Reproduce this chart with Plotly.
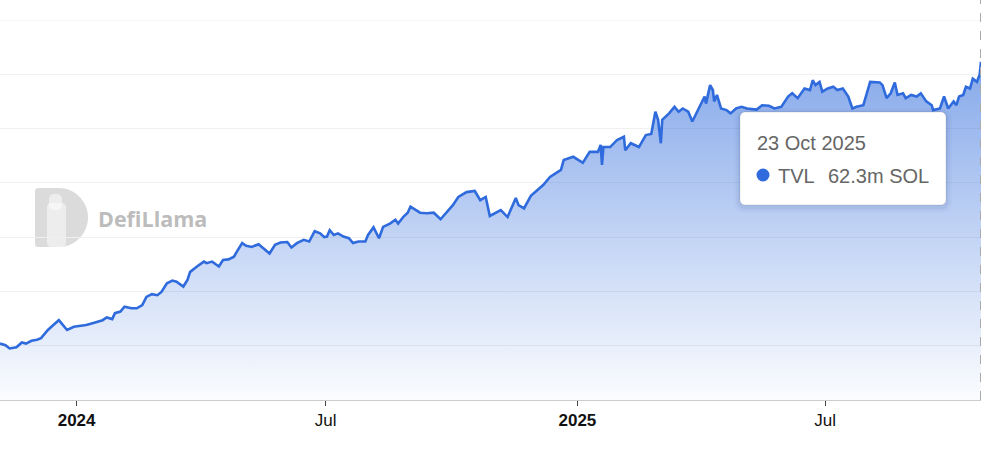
import plotly.graph_objects as go

# ---- data ----
dates = [
    # late 2023
    "2023-11-06", "2023-11-10", "2023-11-13", "2023-11-18", "2023-11-22", "2023-11-25",
    "2023-11-29", "2023-12-03", "2023-12-06", "2023-12-11", "2023-12-15", "2023-12-19",
    "2023-12-21", "2023-12-25", "2023-12-30",
    # 2024 H1
    "2024-01-03", "2024-01-08", "2024-01-12", "2024-01-16", "2024-01-20", "2024-01-23",
    "2024-01-27", "2024-01-29", "2024-02-02", "2024-02-05", "2024-02-10", "2024-02-14",
    "2024-02-18", "2024-02-21", "2024-02-25", "2024-02-29", "2024-03-03", "2024-03-07",
    "2024-03-11", "2024-03-14", "2024-03-19", "2024-03-22", "2024-03-24", "2024-03-29",
    "2024-04-03", "2024-04-05", "2024-04-09", "2024-04-14", "2024-04-17", "2024-04-21",
    "2024-04-25", "2024-04-27", "2024-05-01", "2024-05-04", "2024-05-08", "2024-05-13",
    "2024-05-17", "2024-05-21", "2024-05-25", "2024-05-29", "2024-06-03", "2024-06-06",
    "2024-06-10", "2024-06-15", "2024-06-19", "2024-06-23", "2024-06-27", "2024-06-30",
    # 2024 H2
    "2024-07-02", "2024-07-04", "2024-07-07", "2024-07-10", "2024-07-14", "2024-07-18",
    "2024-07-21", "2024-07-25", "2024-07-30", "2024-08-01", "2024-08-05", "2024-08-09",
    "2024-08-12", "2024-08-17", "2024-08-21", "2024-08-23", "2024-08-27", "2024-08-30",
    "2024-09-01", "2024-09-05", "2024-09-08", "2024-09-13", "2024-09-18", "2024-09-23",
    "2024-10-02", "2024-10-06", "2024-10-12", "2024-10-18", "2024-10-22", "2024-10-26",
    "2024-10-29", "2024-11-06", "2024-11-11", "2024-11-17", "2024-11-19", "2024-11-23",
    "2024-11-28", "2024-12-07", "2024-12-12", "2024-12-20", "2024-12-22", "2024-12-29",
    # 2025
    "2025-01-05", "2025-01-10", "2025-01-16", "2025-01-18", "2025-01-19", "2025-01-20",
    "2025-01-25", "2025-01-30", "2025-02-04", "2025-02-05", "2025-02-09", "2025-02-15",
    "2025-02-20", "2025-02-24", "2025-02-27", "2025-03-01", "2025-03-03", "2025-03-04",
    "2025-03-09", "2025-03-13", "2025-03-16", "2025-03-19", "2025-03-23", "2025-03-26",
    "2025-03-30", "2025-04-01", "2025-04-04", "2025-04-05", "2025-04-08", "2025-04-10",
    "2025-04-11", "2025-04-13", "2025-04-16", "2025-04-20", "2025-04-23", "2025-04-27",
    "2025-05-01", "2025-05-05", "2025-05-12", "2025-05-16", "2025-05-21", "2025-05-25",
    "2025-05-30", "2025-06-04", "2025-06-07", "2025-06-11", "2025-06-16", "2025-06-20",
    "2025-06-22", "2025-06-24", "2025-06-27", "2025-06-29", "2025-07-03", "2025-07-07",
    "2025-07-10", "2025-07-14", "2025-07-18", "2025-07-21", "2025-07-24", "2025-07-29",
    "2025-08-03", "2025-08-10", "2025-08-12", "2025-08-15", "2025-08-18", "2025-08-21",
    "2025-08-23", "2025-08-27", "2025-08-29", "2025-09-02", "2025-09-06", "2025-09-09",
    "2025-09-13", "2025-09-17", "2025-09-18", "2025-09-23", "2025-09-26", "2025-09-29",
    "2025-10-03", "2025-10-05", "2025-10-07", "2025-10-10", "2025-10-12", "2025-10-15",
    "2025-10-17", "2025-10-20", "2025-10-22", "2025-10-23",
]
tvl_m_sol = [
    # late 2023
    10.4, 10.1, 9.5, 9.7, 10.6, 10.4,
    10.9, 11.1, 11.4, 12.9, 13.8, 14.7,
    14.1, 12.9, 13.5,
    # 2024 H1
    13.6, 13.8, 14.1, 14.4, 14.7, 15.2,
    14.9, 16.0, 16.3, 17.2, 16.9, 16.9,
    17.5, 19.0, 19.5, 19.3, 19.9, 21.5,
    22.0, 21.8, 20.9, 22.1, 23.6, 24.6,
    25.5, 25.2, 25.5, 24.6, 25.8, 25.9,
    26.4, 27.3, 28.9, 28.4, 28.2, 28.7,
    27.8, 27.0, 28.6, 29.0, 29.1, 28.1,
    28.9, 29.5, 29.2, 31.1, 30.7, 30.0,
    # 2024 H2
    30.1, 31.3, 30.4, 30.7, 30.1, 29.8,
    28.9, 29.2, 29.2, 30.4, 31.8, 29.8,
    31.9, 32.5, 33.2, 32.5, 33.8, 34.5,
    35.6, 35.0, 34.5, 34.4, 34.5, 33.3,
    35.9, 37.4, 38.3, 38.5, 36.8, 37.4,
    33.9, 35.0, 33.7, 37.2, 35.9, 35.3,
    37.6, 39.6, 41.1, 42.4, 44.2, 44.8,
    # 2025
    43.7, 45.7, 45.7, 47.0, 43.3, 46.6,
    46.6, 47.9, 48.5, 46.0, 47.3, 46.6,
    48.8, 49.0, 53.1, 51.6, 47.3, 51.6,
    52.8, 54.0, 53.1, 53.7, 53.1, 51.3,
    53.4, 54.6, 55.9, 54.6, 58.0, 57.1,
    55.0, 56.2, 53.7, 53.4, 52.8, 53.7,
    54.0, 53.7, 53.5, 54.3, 54.2, 53.7,
    54.0, 55.9, 56.5, 55.6, 57.4, 57.1,
    58.9, 58.0, 58.6, 56.8, 57.4, 57.7,
    57.1, 57.4, 55.9, 53.7, 54.0, 54.3,
    58.6, 58.5, 58.0, 55.6, 56.5, 58.5,
    56.2, 56.5, 55.6, 56.2, 55.9, 56.5,
    55.0, 54.3, 53.4, 53.7, 55.9, 53.7,
    55.0, 54.3, 55.9, 56.2, 57.7, 57.4,
    59.2, 58.6, 59.9, 62.3,
]
tick_dates = ["2024-01-01", "2024-07-01", "2025-01-01", "2025-07-01"]
tick_labels = ["<b>2024</b>", "Jul", "<b>2025</b>", "Jul"]
y_grid = [0, 10, 20, 30, 40, 50, 60, 70]
tooltip_date = "23 Oct 2025"
tooltip_series = "TVL"
tooltip_value = "62.3m SOL"

# ---- styling ----
BLUE = "rgb(47,107,220)"
W, H = 984, 450
ML, MR, MT, MB = 0, 3, 20, 50
PW, PH = W - ML - MR, H - MT - MB
FONT = "Liberation Sans, Arial, Helvetica, sans-serif"


def X(px):
    return (px - ML) / PW


def Y(py):
    return (H - MB - py) / PH


def path(points_cmds):
    out = []
    for cmd, pts in points_cmds:
        coords = " ".join(f"{X(a):.5f},{Y(b):.5f}" for a, b in pts)
        out.append(f"{cmd}{coords}")
    return " ".join(out) + " Z"


def rrect(x0, y0, x1, y1, r):
    k = 0.5523 * r
    return path([
        ("M", [(x0 + r, y0)]),
        ("L", [(x1 - r, y0)]),
        ("C", [(x1 - r + k, y0), (x1, y0 + r - k), (x1, y0 + r)]),
        ("L", [(x1, y1 - r)]),
        ("C", [(x1, y1 - r + k), (x1 - r + k, y1), (x1 - r, y1)]),
        ("L", [(x0 + r, y1)]),
        ("C", [(x0 + r - k, y1), (x0, y1 - r + k), (x0, y1 - r)]),
        ("L", [(x0, y0 + r)]),
        ("C", [(x0, y0 + r - k), (x0 + r - k, y0), (x0 + r, y0)]),
    ])


fig = go.Figure()
fig.add_trace(go.Scatter(
    x=dates, y=tvl_m_sol, mode="lines",
    line=dict(color=BLUE, width=2.6),
    fill="tozeroy",
    fillgradient=dict(
        type="vertical",
        colorscale=[[0, "rgba(47,107,220,0.02)"], [1, "rgba(47,107,220,0.58)"]],
        start=0, stop=max(tvl_m_sol),
    ),
    hoverinfo="skip", showlegend=False,
))

shapes = []
# top gridline (range edge)
shapes.append(dict(type="line", xref="paper", yref="y", x0=0, x1=1, y0=y_grid[-1], y1=y_grid[-1],
                   line=dict(color="#f0f0f0", width=1), layer="below"))
# watermark: D-shaped logo
cx, cy, r = 58.5, 217.5, 29.5
k = 0.5523 * r
d_path = path([
    ("M", [(38, cy - r)]),
    ("L", [(cx, cy - r)]),
    ("C", [(cx + k, cy - r), (cx + r, cy - k), (cx + r, cy)]),
    ("C", [(cx + r, cy + k), (cx + k, cy + r), (cx, cy + r)]),
    ("L", [(38, cy + r)]),
    ("C", [(36.3, cy + r), (35, cy + r - 1.3), (35, cy + r - 3)]),
    ("L", [(35, cy - r + 3)]),
    ("C", [(35, cy - r + 1.3), (36.3, cy - r), (38, cy - r)]),
])
shapes.append(dict(type="path", path=d_path, xref="paper", yref="paper",
                   fillcolor="rgba(200,200,200,0.65)", line=dict(width=0), layer="below"))
# llama silhouette (lighter)
shapes.append(dict(type="path", path=rrect(47, 203, 66, 247, 4), xref="paper", yref="paper",
                   fillcolor="rgba(255,255,255,0.5)", line=dict(width=0), layer="below"))
shapes.append(dict(type="path", path=rrect(49, 194, 62, 210, 5), xref="paper", yref="paper",
                   fillcolor="rgba(255,255,255,0.5)", line=dict(width=0), layer="below"))

# crosshair dashed line
shapes.append(dict(type="line", xref="paper", yref="paper", x0=X(980.5), x1=X(980.5),
                   y0=0, y1=Y(0), line=dict(color="#aaaaaa", width=1, dash="dash")))

# tooltip shadow + box
for i, a in enumerate([0.025, 0.035, 0.05]):
    g = 6 - 2 * i
    shapes.append(dict(type="path", path=rrect(740 - g, 112 - g + 2, 946 + g, 205 + g + 2, 5 + g),
                       xref="paper", yref="paper", fillcolor=f"rgba(40,60,110,{a})",
                       line=dict(width=0)))
shapes.append(dict(type="path", path=rrect(740, 112, 946, 205, 5), xref="paper", yref="paper",
                   fillcolor="white", line=dict(color="rgba(0,0,0,0.10)", width=1)))
shapes.append(dict(type="circle", xref="paper", yref="paper",
                   x0=X(756.5), x1=X(769.5), y0=Y(181.5), y1=Y(168.5),
                   fillcolor=BLUE, line=dict(width=0)))

annotations = [
    dict(text="DefiLlama", x=X(96), y=Y(218), xref="paper", yref="paper",
         xanchor="left", yanchor="middle", showarrow=False,
         font=dict(family="Open Sans, Lato, sans-serif", size=21.5, color="rgba(170,170,170,0.8)",
                   weight="bold")),
    dict(text=tooltip_date, x=X(755), y=Y(143), xref="paper", yref="paper",
         xanchor="left", yanchor="middle", showarrow=False,
         font=dict(family=FONT, size=20, color="#666666")),
    dict(text=tooltip_series, x=X(776), y=Y(176), xref="paper", yref="paper",
         xanchor="left", yanchor="middle", showarrow=False,
         font=dict(family=FONT, size=20, color="#666666")),
    dict(text=tooltip_value, x=X(826), y=Y(176), xref="paper", yref="paper",
         xanchor="left", yanchor="middle", showarrow=False,
         font=dict(family=FONT, size=20, color="#666666")),
]

fig.update_layout(
    width=W, height=H,
    margin=dict(l=ML, r=MR, t=MT, b=MB, pad=0),
    paper_bgcolor="white", plot_bgcolor="white",
    shapes=shapes, annotations=annotations,
    xaxis=dict(
        range=["2023-11-06", "2025-10-23"],
        tickvals=tick_dates, ticktext=tick_labels,
        ticks="outside", ticklen=5, tickcolor="#444", tickwidth=1,
        showgrid=False, showline=True, linecolor="#cccccc", linewidth=1,
        zeroline=False,
        tickfont=dict(family=FONT, size=17, color="#111"),
    ),
    yaxis=dict(
        range=[0, 70], tickvals=y_grid, showticklabels=False,
        showgrid=True, gridcolor="#f0f0f0", gridwidth=1,
        zeroline=False, showline=False,
    ),
)

fig.write_html("out.html", post_script="document.body.style.margin='0';",
               config={"displayModeBar": False})
